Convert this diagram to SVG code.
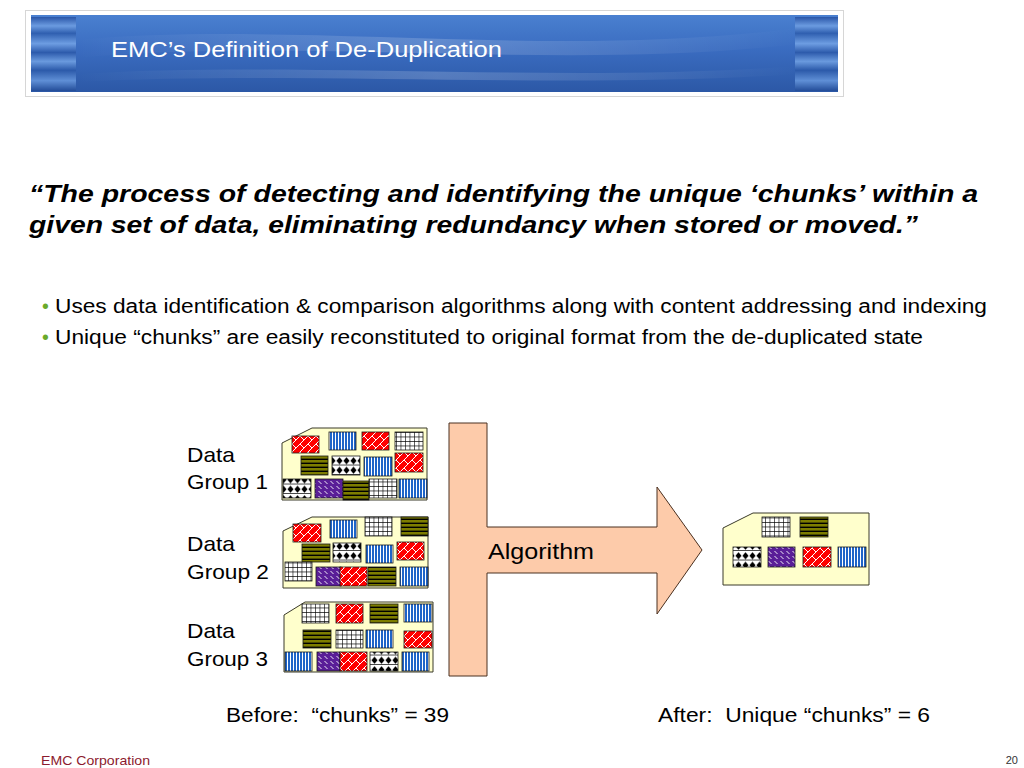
<svg xmlns="http://www.w3.org/2000/svg" width="1024" height="768" viewBox="0 0 1024 768">
<defs>
<linearGradient id="gBody" x1="0" y1="0" x2="0" y2="1">
<stop offset="0" stop-color="#4a80d0"/>
<stop offset="0.45" stop-color="#3a6cc0"/>
<stop offset="1" stop-color="#2c58a6"/>
</linearGradient>
<linearGradient id="gSwoosh" x1="0" y1="0" x2="1" y2="0">
<stop offset="0" stop-color="#ffffff" stop-opacity="0"/>
<stop offset="0.5" stop-color="#ffffff" stop-opacity="0.18"/>
<stop offset="1" stop-color="#ffffff" stop-opacity="0"/>
</linearGradient>
<linearGradient id="gCap" x1="0" y1="0" x2="0" y2="1">
<stop offset="0" stop-color="#2a56a8"/>
<stop offset="0.12" stop-color="#6b9be0"/>
<stop offset="0.22" stop-color="#2f5fb0"/>
<stop offset="0.36" stop-color="#6d9de2"/>
<stop offset="0.48" stop-color="#2d5bac"/>
<stop offset="0.6" stop-color="#6a9ade"/>
<stop offset="0.72" stop-color="#2c5aaa"/>
<stop offset="0.86" stop-color="#5f8fd6"/>
<stop offset="1" stop-color="#234c98"/>
</linearGradient>
<pattern id="pRed" width="8" height="8" patternUnits="userSpaceOnUse">
<rect width="8" height="8" fill="#ff0000"/>
<path d="M-1,9 L9,-1 M-1,1 L1,-1 M7,9 L9,7 M4,4 L8,8" stroke="#ffffff" stroke-width="1" fill="none"/>
</pattern>
<pattern id="pBlue" width="3" height="4" patternUnits="userSpaceOnUse">
<rect width="3" height="4" fill="#1e64c8"/>
<rect x="2" width="1" height="4" fill="#ffffff"/>
</pattern>
<pattern id="pGrid" width="4.5" height="4.5" patternUnits="userSpaceOnUse">
<rect width="4.5" height="4.5" fill="#ffffff"/>
<path d="M0,0 H4.5 M0,0 V4.5" stroke="#000000" stroke-width="1.2" fill="none"/>
</pattern>
<pattern id="pOlive" width="4" height="4" patternUnits="userSpaceOnUse">
<rect width="4" height="4" fill="#7d7d00"/>
<rect y="2.6" width="4" height="1.4" fill="#000000"/>
</pattern>
<pattern id="pDia" width="7" height="9.5" patternUnits="userSpaceOnUse">
<rect width="7" height="9.5" fill="#ffffff"/>
<path d="M3.5,1.2 L6.6,4.7 L3.5,8.2 L0.4,4.7 Z" fill="#000000"/>
<rect y="8.8" width="7" height="0.7" fill="#000000"/>
</pattern>
<pattern id="pPur" width="6" height="5" patternUnits="userSpaceOnUse">
<rect width="6" height="5" fill="#5a1e98"/>
<path d="M0.5,1 L3.5,4" stroke="#ffffff" stroke-width="0.9" fill="none"/>
</pattern>
</defs>
<style>
.sans{font-family:"Liberation Sans",Arial,sans-serif;}
.box{fill:#ffffcc;stroke:#3a3a2a;stroke-width:1;}
.c{stroke:#1a1a1a;stroke-width:0.8;}
.r{fill:url(#pRed);}
.b{fill:url(#pBlue);}
.g{fill:url(#pGrid);}
.o{fill:url(#pOlive);}
.d{fill:url(#pDia);}
.p{fill:url(#pPur);}
.lbl{font-size:21px;fill:#000000;}
</style>
<rect width="1024" height="768" fill="#ffffff"/>

<g id="header">
<rect x="25.5" y="10.5" width="818" height="86" fill="#ffffff" stroke="#d6d6d6" stroke-width="1"/>
<rect x="31" y="15" width="807" height="77" fill="url(#gBody)"/>
<path d="M76,40 C300,20 550,60 798,28 L798,44 C560,72 300,36 76,58 Z" fill="url(#gSwoosh)"/>
<path d="M76,74 C300,60 560,84 798,66 L798,74 C560,90 300,70 76,82 Z" fill="url(#gSwoosh)"/>
<rect x="31" y="17" width="45" height="74" fill="url(#gCap)"/>
<rect x="795" y="17" width="43" height="74" fill="url(#gCap)"/>
<text x="111" y="57" class="sans" font-size="22" fill="#ffffff" textLength="391" lengthAdjust="spacingAndGlyphs">EMC’s Definition of De-Duplication</text>
</g>

<g id="quote">
<text class="sans" font-size="24.5" font-weight="bold" font-style="italic" fill="#000000">
<tspan x="29" y="202" textLength="949" lengthAdjust="spacingAndGlyphs">“The process of detecting and identifying the unique ‘chunks’ within a</tspan>
</text>
<text class="sans" font-size="24.5" font-weight="bold" font-style="italic" fill="#000000">
<tspan x="29" y="233" textLength="889" lengthAdjust="spacingAndGlyphs">given set of data, eliminating redundancy when stored or moved.”</tspan>
</text>
</g>

<g id="bullets" class="sans" font-size="19.5">
<text x="42" y="313" fill="#6aaa2a">•</text>
<text x="55" y="313" fill="#000000" textLength="932" lengthAdjust="spacingAndGlyphs">Uses data identification &amp; comparison algorithms along with content addressing and indexing</text>
<text x="42" y="344" fill="#6aaa2a">•</text>
<text x="55" y="344" fill="#000000" textLength="868" lengthAdjust="spacingAndGlyphs">Unique “chunks” are easily reconstituted to original format from the de-duplicated state</text>
</g>

<g id="group1">
<text class="sans lbl" x="187" y="462" textLength="48" lengthAdjust="spacingAndGlyphs">Data</text>
<text class="sans lbl" x="187" y="489" textLength="81" lengthAdjust="spacingAndGlyphs">Group 1</text>
<path class="box" d="M282,443 L312,428 L427,428 L427,500 L282,500 Z"/>
<rect class="c r" x="292" y="436" width="27" height="17"/>
<rect class="c b" x="329" y="432" width="27" height="18"/>
<rect class="c r" x="362" y="432" width="27" height="18"/>
<rect class="c g" x="395" y="432" width="28" height="18"/>
<rect class="c o" x="301" y="456" width="27" height="19"/>
<rect class="c d" x="332" y="456" width="28" height="19"/>
<rect class="c b" x="364" y="457" width="28" height="19"/>
<rect class="c r" x="395" y="453" width="28" height="19"/>
<rect class="c d" x="283" y="479" width="28" height="19"/>
<rect class="c p" x="315" y="479" width="28" height="19"/>
<rect class="c o" x="343" y="481" width="26" height="19"/>
<rect class="c g" x="369" y="479" width="28" height="19"/>
<rect class="c b" x="399" y="479" width="28" height="19"/>
</g>

<g id="group2">
<text class="sans lbl" x="187" y="551" textLength="48" lengthAdjust="spacingAndGlyphs">Data</text>
<text class="sans lbl" x="187" y="579" textLength="82" lengthAdjust="spacingAndGlyphs">Group 2</text>
<path class="box" d="M283,531 L312,517 L428,517 L428,588 L283,588 Z"/>
<rect class="c r" x="293" y="524" width="28" height="18"/>
<rect class="c b" x="330" y="520" width="27" height="18"/>
<rect class="c g" x="365" y="517" width="27" height="19"/>
<rect class="c o" x="401" y="517" width="27" height="19"/>
<rect class="c o" x="302" y="544" width="28" height="18"/>
<rect class="c d" x="333" y="543" width="28" height="19"/>
<rect class="c b" x="366" y="545" width="27" height="18"/>
<rect class="c r" x="397" y="542" width="27" height="18"/>
<rect class="c g" x="285" y="562" width="27" height="19"/>
<rect class="c p" x="316" y="567" width="25" height="19"/>
<rect class="c r" x="340" y="567" width="27" height="19"/>
<rect class="c o" x="368" y="567" width="28" height="19"/>
<rect class="c b" x="400" y="567" width="28" height="19"/>
</g>

<g id="group3">
<text class="sans lbl" x="187" y="638" textLength="48" lengthAdjust="spacingAndGlyphs">Data</text>
<text class="sans lbl" x="187" y="666" textLength="81" lengthAdjust="spacingAndGlyphs">Group 3</text>
<path class="box" d="M284,615 L305,602 L433,602 L433,672 L284,672 Z"/>
<rect class="c g" x="302" y="604" width="27" height="19"/>
<rect class="c r" x="336" y="604" width="27" height="19"/>
<rect class="c o" x="370" y="604" width="28" height="19"/>
<rect class="c b" x="404" y="604" width="28" height="18"/>
<rect class="c o" x="303" y="630" width="28" height="18"/>
<rect class="c g" x="336" y="630" width="27" height="18"/>
<rect class="c b" x="366" y="630" width="27" height="18"/>
<rect class="c r" x="404" y="631" width="28" height="17"/>
<rect class="c b" x="285" y="652" width="27" height="19"/>
<rect class="c p" x="317" y="652" width="23" height="19"/>
<rect class="c r" x="340" y="652" width="27" height="19"/>
<rect class="c d" x="370" y="652" width="28" height="19"/>
<rect class="c b" x="402" y="652" width="27" height="19"/>
</g>

<g id="algorithm">
<path d="M449,423 L487,423 L487,527 L657,527 L657,487 L702,550 L657,614 L657,573 L487,573 L487,676 L449,676 Z" fill="#fdcbaa" stroke="#4a3020" stroke-width="1"/>
<text class="sans" x="488" y="559" font-size="22" fill="#000000" textLength="106" lengthAdjust="spacingAndGlyphs">Algorithm</text>
</g>

<g id="result">
<path class="box" d="M723,528 L753,513 L869,513 L869,585 L723,585 Z"/>
<rect class="c g" x="762" y="517" width="28" height="20"/>
<rect class="c o" x="800" y="517" width="28" height="20"/>
<rect class="c d" x="733" y="547" width="28" height="20"/>
<rect class="c p" x="768" y="547" width="27" height="20"/>
<rect class="c r" x="803" y="547" width="28" height="20"/>
<rect class="c b" x="838" y="547" width="28" height="20"/>
</g>

<g id="connectors"></g>

<g id="captions" class="sans" font-size="20" fill="#000000">
<text x="226" y="722" xml:space="preserve" textLength="223" lengthAdjust="spacingAndGlyphs">Before:  “chunks” = 39</text>
<text x="658" y="722" xml:space="preserve" textLength="272" lengthAdjust="spacingAndGlyphs">After:  Unique “chunks” = 6</text>
</g>

<g id="footer" class="sans">
<text x="41" y="765" font-size="13" fill="#8c1a2e" textLength="109" lengthAdjust="spacingAndGlyphs">EMC Corporation</text>
<text x="1018" y="764" font-size="11" fill="#333333" text-anchor="end">20</text>
</g>
</svg>
